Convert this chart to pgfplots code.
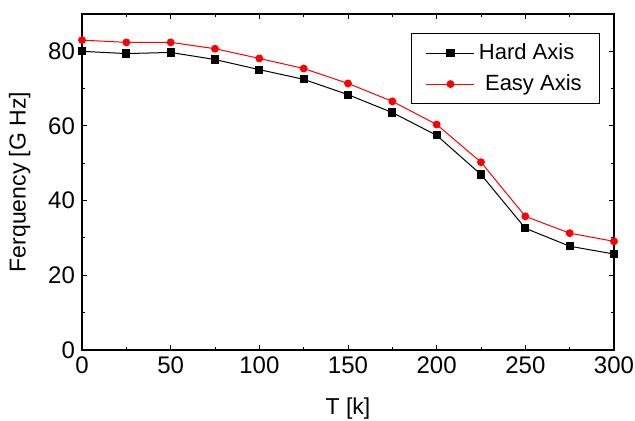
\documentclass[border=0pt]{standalone}
\usepackage{fontspec}
\setmainfont{Liberation Sans}
\usepackage{pgfplots}
\pgfplotsset{compat=1.18}

\begin{document}
\begin{tikzpicture}
  \begin{axis}[
    scale only axis,
    width=266pt, height=168pt,
    xmin=0, xmax=300, ymin=0, ymax=90,
    xtick={0,50,...,300}, ytick={0,20,...,80},
    minor x tick num=1, minor y tick num=1,
    tick align=inside,
    major tick length=2.5pt, minor tick length=1.5pt,
    axis line style={line width=0.7pt},
    every tick/.style={line width=0.5pt, black},
    tick label style={font=\fontsize{12}{14}\selectfont},
    label style={font=\fontsize{11.5}{14}\selectfont},
    /pgf/number format/assume math mode=true,
    xlabel={T [k]}, ylabel={Ferquency [G Hz]},
    xlabel style={yshift=-5pt},
    ylabel style={yshift=2pt},
    legend style={at={(0.974,0.943)}, anchor=north east,
      font=\fontsize{11}{13}\selectfont, draw=black, line width=0.5pt,
      inner xsep=7pt, inner ysep=3pt, row sep=2pt},
    legend cell align=left,
    legend image code/.code={
      \draw[#1, mark repeat=2, mark phase=2] plot coordinates {(0pt,0pt) (12pt,0pt) (24pt,0pt)};},
  ]
    \addplot[black, line width=0.5pt, mark=square*, mark size=1.8pt] coordinates {
      (0,80.0)(25,79.4)(50,79.7)(75,77.8)(100,75.1)(125,72.5)(150,68.4)
      (175,63.6)(200,57.5)(225,47.0)(250,32.6)(275,27.8)(300,25.7)};
    \addplot[red, line width=0.5pt, mark=*, mark size=1.7pt] coordinates {
      (0,83.0)(25,82.4)(50,82.4)(75,80.7)(100,78.1)(125,75.4)(150,71.4)
      (175,66.6)(200,60.4)(225,50.3)(250,35.8)(275,31.3)(300,29.1)};
    \legend{Hard Axis, {\ Easy Axis}}
  \end{axis}
  \pgfresetboundingbox
  \path ([xshift=-41pt, yshift=-35.5pt]current axis.south west)
    rectangle ([xshift=10.5pt, yshift=7pt]current axis.north east);
\end{tikzpicture}
\end{document}
